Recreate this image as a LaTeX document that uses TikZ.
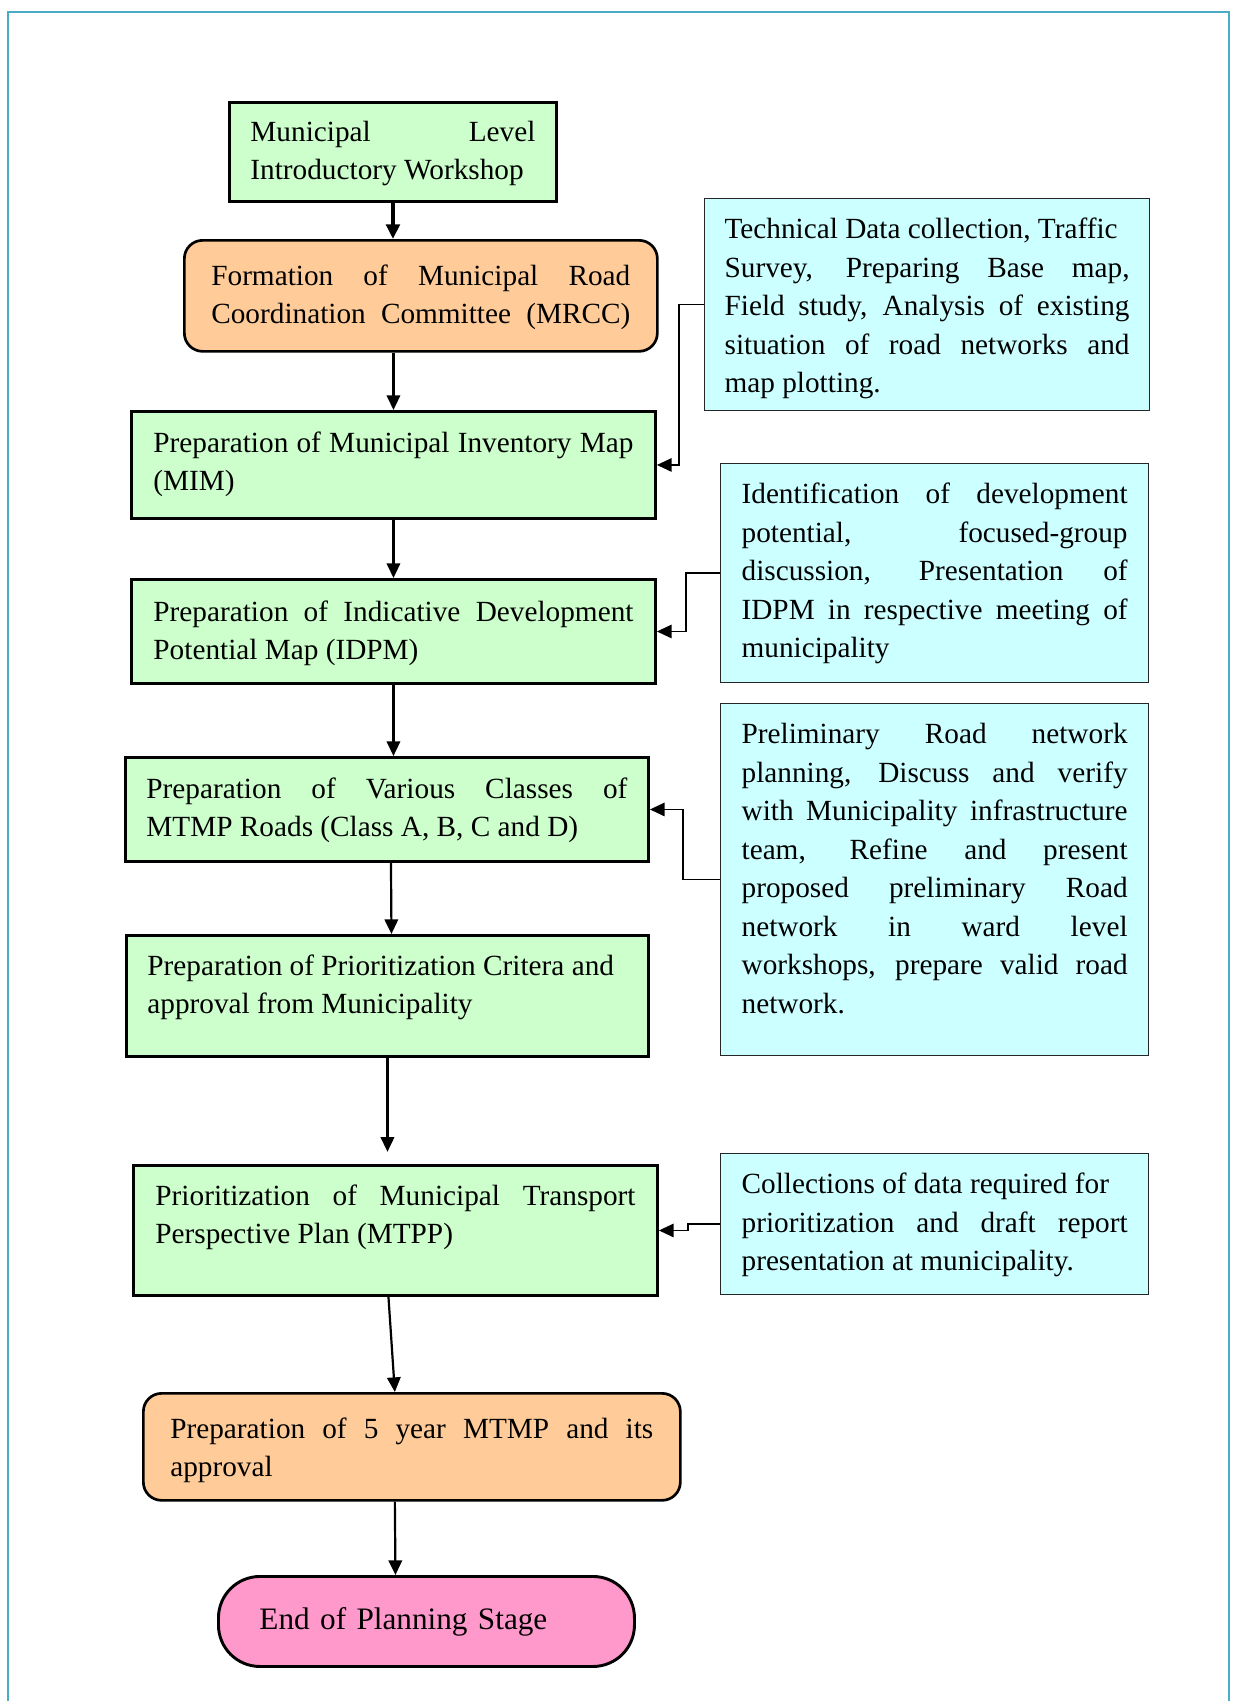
\documentclass[tikz,border=0pt]{standalone}
\usepackage{fontspec}
\setmainfont{Liberation Serif}
\usetikzlibrary{arrows.meta,calc}
\definecolor{boxgreen}{HTML}{CCFFCC}
\definecolor{boxorange}{HTML}{FFCC99}
\definecolor{boxcyan}{HTML}{CCFFFF}
\definecolor{boxpink}{HTML}{FF99CC}
\definecolor{framecol}{HTML}{4BACC6}
\newdimen\pxu \pxu=0.41pt
% text block of a box: width, height (in px), text
\newcommand\boxtext[3]{\parbox[c][#2\pxu][t]{#1\pxu}{\strut#3}}
\tolerance=10000 \hbadness=10000 \hyphenpenalty=10000 \exhyphenpenalty=10000
\tikzset{
  stage/.style={draw, anchor=north west, font=\fontsize{12}{15.8}\selectfont},
  greenbox/.style={stage, fill=boxgreen, line width=1.2pt},
  orangebox/.style={stage, fill=boxorange, line width=1.1pt, rounded corners=7.5pt},
  cyanbox/.style={stage, fill=boxcyan, draw=black!85, line width=0.5pt, inner xsep=20\pxu, inner ysep=13\pxu},
  flow/.style={-{Triangle[length=6pt,width=5.5pt]}, line width=0.9pt},
  feed/.style={-{Triangle[length=6pt,width=5.5pt]}, line width=0.6pt},
}
\begin{document}
\begin{tikzpicture}[x=0.41pt,y=-0.41pt]
\useasboundingbox (0,0) rectangle (1232,1701);
\draw[framecol, line width=0.9pt] (8,1701) -- (8,12) -- (1229,12) -- (1229,1701);

% main stages
\node[greenbox, inner xsep=21\pxu, inner ysep=12\pxu] (work) at (228,101)
  {\boxtext{285}{75}{Municipal Level\linebreak Introductory Workshop}};
\node[orangebox, inner xsep=27\pxu, inner ysep=18\pxu] (mrcc) at (183,239)
  {\boxtext{419}{75}{\parfillskip=0pt Formation of Municipal Road\linebreak Coordination Committee (MRCC)}};
\node[greenbox, inner xsep=22\pxu, inner ysep=14\pxu] (mim) at (130,410)
  {\boxtext{480}{79}{Preparation of Municipal Inventory Map\linebreak (MIM)}};
\node[greenbox, inner xsep=22\pxu, inner ysep=15\pxu] (idpm) at (130,578)
  {\boxtext{480}{74}{Preparation of Indicative Development\linebreak Potential Map (IDPM)}};
\node[greenbox, inner xsep=21\pxu, inner ysep=14\pxu] (classes) at (124,756)
  {\boxtext{481}{76}{Preparation of Various Classes of\linebreak MTMP Roads (Class A, B, C and D)}};
\node[greenbox, inner xsep=21\pxu, inner ysep=13\pxu] (criteria) at (125,934)
  {\boxtext{480}{95}{Preparation of Prioritization Critera and\newline approval from Municipality}};
\node[greenbox, inner xsep=22\pxu, inner ysep=13\pxu] (mtpp) at (132,1164)
  {\boxtext{480}{104}{Prioritization of Municipal Transport\linebreak Perspective Plan (MTPP)}};
\node[orangebox, inner xsep=27\pxu, inner ysep=18\pxu] (plan5) at (142,1392)
  {\boxtext{483}{71}{Preparation of 5 year MTMP and its\linebreak approval}};
\node[stage, fill=boxpink, line width=1.2pt, rounded corners=17pt, minimum height=90\pxu,
  text width=334\pxu, align=left, inner xsep=41\pxu, font=\fontsize{12.8}{16}\selectfont] (finish) at (217,1575)
  {End of Planning Stage};

% activities
\node[cyanbox] (techdata) at (704,198)
  {\boxtext{405}{186}{Technical Data collection, Traffic\newline Survey, Preparing Base map,\linebreak Field study, Analysis of existing\linebreak situation of road networks and\linebreak map plotting.}};
\node[cyanbox, inner xsep=21\pxu] (potential) at (720,463)
  {\boxtext{386}{193}{Identification of development\linebreak potential, focused-group\linebreak discussion, Presentation of\linebreak IDPM in respective meeting of\linebreak municipality}};
\node[cyanbox, inner xsep=21\pxu] (roadnet) at (720,703)
  {\boxtext{386}{326}{Preliminary Road network\linebreak planning, Discuss and verify\linebreak with Municipality infrastructure\linebreak team, Refine and present\linebreak proposed preliminary Road\linebreak network in ward level\linebreak workshops, prepare valid road\linebreak network.}};
\node[cyanbox, inner xsep=21\pxu] (collect) at (720,1153)
  {\boxtext{386}{115}{Collections of data required for\newline prioritization and draft report\linebreak presentation at municipality.}};

\draw[flow, line width=1.6pt] (work.south) -- (work.south |- mrcc.north);
\draw[flow] (mrcc.south -| mim.north) -- (mim.north);
\draw[flow] (mim.south) -- (idpm.north);
\draw[flow] (idpm.south) -- (idpm.south |- classes.north);
\draw[flow] ($(classes.south)+(4,0)$) -- ($(criteria.north)+(4,0)$);
\draw[flow, shorten >=5pt] (criteria.south) -- (criteria.south |- mtpp.north);
\draw[flow] ($(mtpp.south)+(-7,0)$) -- ($(plan5.north)+(-17,0)$);
\draw[flow] ($(plan5.south)+(-17,0)$) -- ($(finish.north)+(-31,0)$);

\draw[feed] (techdata.west) -- ++(-25,0) |- (mim.east);
\draw[feed] (potential.west) -- ++(-34,0) |- (idpm.east);
\draw[feed] (roadnet.west) -- ++(-37,0) |- (classes.east);
\draw[feed] (collect.west) -- ++(-32,0) |- (mtpp.east);
\end{tikzpicture}
\end{document}
